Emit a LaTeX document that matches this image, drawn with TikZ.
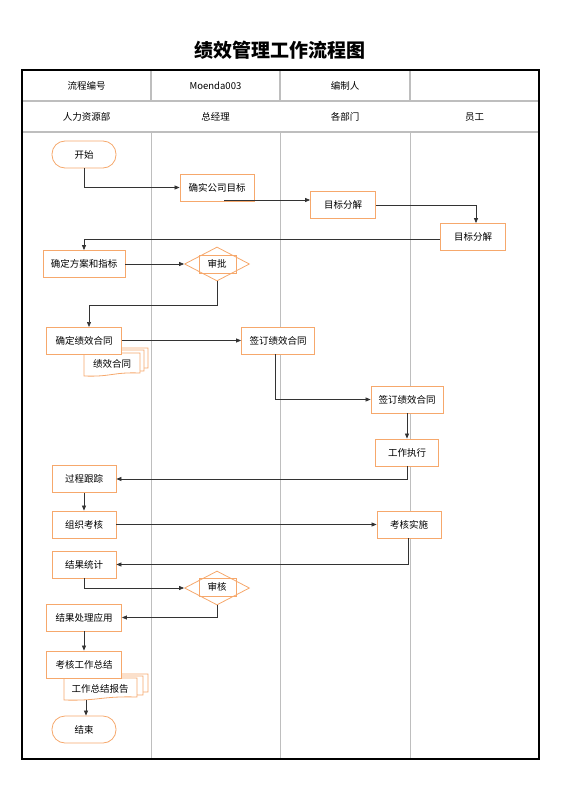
\documentclass[tikz,border=0pt]{standalone}
\usepackage{fontspec}
\setmainfont{Noto Sans CJK SC}
\usetikzlibrary{shapes.geometric,arrows.meta}
\definecolor{orn}{RGB}{246,168,108}
\definecolor{lane}{RGB}{190,190,190}
\tikzset{
 x=1pt,y=-1pt,
 box/.style={draw=orn,line width=0.8pt,fill=white,minimum height=27pt,inner sep=0pt,font=\fontsize{9.5}{11}\selectfont},
 term/.style={box,rounded corners=13pt,minimum width=64pt},
 dia/.style={diamond,draw=orn,line width=0.8pt,fill=white,aspect=2,minimum width=65pt,minimum height=34pt,inner sep=0pt},
 lab/.style={font=\fontsize{9.5}{11}\selectfont},
 arr/.style={draw=black!80,line width=0.7pt,-{Triangle[length=5pt,width=4pt]}},
 hd/.style={font=\fontsize{9.5}{11}\selectfont},
}
\newcommand{\docwave}[4]{% x1 y1 x2 y2
 \filldraw[draw=orn,fill=white,line width=0.8pt] (#1,#2) -- (#3,#2) -- (#3,#4) .. controls ({(#1+#3)/2},{#4-1}) and ({(#1+#3)/2},{#4+4}) .. ({#1},{#4+3}) -- cycle;}
\begin{document}
\begin{tikzpicture}
\useasboundingbox (0,0) rectangle (560,792);
\node[font=\bfseries\fontsize{19}{22}\selectfont] (title) at (280,50) {绩效管理工作流程图};
% lanes
\foreach \x in {151,280,410} \draw[lane,line width=0.8pt] (\x,132) -- (\x,759);
\draw[lane,line width=1.2pt] (22,101) -- (539,101);
\draw[lane,line width=1.2pt] (22,132) -- (539,132);
\foreach \x in {151,280,410} \draw[lane,line width=1.5pt] (\x,70) -- (\x,101);
\draw[black,line width=1.6pt] (22,70) rectangle (539,759);
\node[hd] (h1) at (86.5,86) {流程编号};
\node[hd] (h2) at (215.5,86) {Moenda003};
\node[hd] (h3) at (345,86) {编制人};
\node[hd] (l1) at (86.5,117) {人力资源部};
\node[hd] (l2) at (215.5,117) {总经理};
\node[hd] (l3) at (345,117) {各部门};
\node[hd] (l4) at (474.5,117) {员工};
% nodes
\node[term] (start) at (84,154.5) {开始};
\node[box,minimum width=74pt] (goal) at (217,187.5) {确实公司目标};
\node[box,minimum width=65pt] (dec3) at (343,205) {目标分解};
\node[box,minimum width=65pt] (dec4) at (473,237) {目标分解};
\node[box,minimum width=82pt] (plan) at (84,264) {确定方案和指标};
\node[dia] (appr) at (217,264) {};
\draw[orn,line width=0.8pt] (199,255) rectangle (236,273);
\node[lab] at (217,263.5) {审批};
% doc stack 1
\docwave{93}{348}{148}{368}
\docwave{89}{350}{144}{371}
\docwave{84}{353}{140}{373}
\node[lab] (doc1) at (112,364) {绩效合同};
\node[box,minimum width=75pt] (cont) at (84,340.5) {确定绩效合同};
\node[box,minimum width=73pt] (sign2) at (278,340.5) {签订绩效合同};
\node[box,minimum width=72pt] (sign4) at (407,399.5) {签订绩效合同};
\node[box,minimum width=63pt] (exec) at (407,452.5) {工作执行};
\node[box,minimum width=64pt] (track) at (84,479) {过程跟踪};
\node[box,minimum width=64pt] (org) at (84,524.5) {组织考核};
\node[box,minimum width=64pt] (impl) at (409,524.5) {考核实施};
\node[box,minimum width=64pt] (stat) at (84,564.5) {结果统计};
\node[dia] (rev) at (217,588) {};
\draw[orn,line width=0.8pt] (199,578) rectangle (236,596);
\node[lab] at (217,587) {审核};
\node[box,minimum width=75pt] (proc) at (84,617.5) {结果处理应用};
% doc stack 2
\docwave{75}{674}{148}{692}
\docwave{70}{676}{143}{695}
\docwave{64}{678}{137}{697}
\node[lab] (doc2) at (100,689) {工作总结报告};
\node[box,minimum width=75pt] (summ) at (84,664.5) {考核工作总结};
\node[term] (end) at (84,729.5) {结束};
% edges
\draw[arr] (start.south) |- (goal.west);
\draw[arr] (goal.south -| 224,0) |- ([yshift=5pt]dec3.west);
\draw[arr] (dec3.east) -| (dec4.north -| 476,0);
\draw[arr] ([yshift=-2pt]dec4.west) -| (plan.north);
\draw[arr] (plan.east) -- (appr.west);
\draw[arr] (appr.south) |- (89,305) -- (89,327);
\draw[arr] (cont.east) -- (sign2.west);
\draw[arr] (sign2.south -| 275,0) |- (sign4.west);
\draw[arr] (sign4.south) -- (exec.north);
\draw[arr] (exec.south) |- (track.east);
\draw[arr] (track.south) -- (org.north);
\draw[arr] (org.east) -- (impl.west);
\draw[arr] (impl.south -| 408,0) |- (stat.east);
\draw[arr] (stat.south) |- (rev.west);
\draw[arr] (rev.south) |- (proc.east);
\draw[arr] (proc.south) -- (summ.north);
\draw[arr] (86,700) -- (end.north -| 86,0);
\end{tikzpicture}
\end{document}
